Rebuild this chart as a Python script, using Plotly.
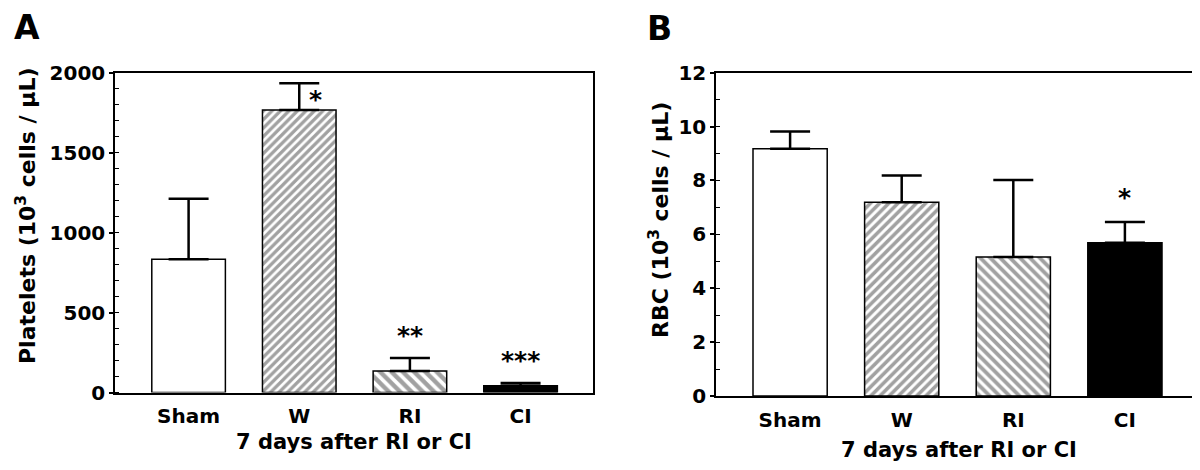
import plotly.graph_objects as go

categories = ["Sham", "W", "RI", "CI"]
platelets = [834, 1767, 134, 42]
platelets_err = [378, 167, 81, 17]
platelets_sig = ["", "*", "**", "***"]
rbc = [9.18, 7.19, 5.16, 5.69]
rbc_err = [0.64, 0.99, 2.86, 0.77]
rbc_sig = ["", "", "", "*"]

patterns_A = ["", "/", "\\", ""]
patterns_B = ["", "/", "\\", ""]
pat_size_A = [6, 6, 8, 6]
pat_size_B = [6, 6.5, 7, 6]
fills = ["white", "white", "white", "black"]

FONT = "DejaVu Sans, sans-serif"

# page offset (browser body margin) and figure size
OFF = 8
W, H = 1192, 462

def px(x):
    return (x - OFF) / W

def py(y):
    return 1 - (y - OFF) / H

fig = go.Figure()

def add_panel(vals, errs, shapes, sizes, xa, ya):
    fig.add_trace(go.Bar(
        x=categories, y=vals, xaxis=xa, yaxis=ya, width=0.665,
        marker=dict(color=fills, line=dict(color="black", width=1.5),
                    pattern=dict(shape=shapes, fgcolor="black", bgcolor="white",
                                 size=sizes, solidity=0.55, fillmode="overlay")),
        error_y=dict(type="data", array=errs, arrayminus=[0]*4, symmetric=False,
                     color="black", thickness=2.5, width=20),
        showlegend=False, hoverinfo="skip"))

add_panel(platelets, platelets_err, patterns_A, pat_size_A, "x", "y")
add_panel(rbc, rbc_err, patterns_B, pat_size_B, "x2", "y2")

axis_common = dict(showline=True, linecolor="black", linewidth=1.5, mirror=True,
                   showgrid=False, zeroline=False, color="black", automargin=False)
ytick_font = dict(family=FONT, size=20, color="black", weight="bold")
xtick_font = dict(family=FONT, size=20, color="black", weight="bold")

fig.update_layout(
    width=W, height=H, margin=dict(l=0, r=0, t=0, b=0),
    paper_bgcolor="white", plot_bgcolor="white",
    font=dict(family=FONT, color="black"),
    xaxis=dict(domain=[px(115), px(592.5)], range=[-0.665, 3.65], ticks="",
               ticklabelstandoff=5,
               anchor="y", tickfont=xtick_font, **axis_common),
    yaxis=dict(domain=[py(392.5), py(72.7)], range=[0, 2000], dtick=500, ticks="outside",
               ticklen=4, tickwidth=1.5, anchor="x", tickfont=ytick_font,
               minor=dict(dtick=100, ticks="inside", ticklen=4, tickwidth=1, tickcolor="black"),
               **axis_common),
    xaxis2=dict(domain=[px(716), px(1198)], range=[-0.664, 3.655], ticks="",
                ticklabelstandoff=5,
                anchor="y2", tickfont=xtick_font, **axis_common),
    yaxis2=dict(domain=[py(396), py(72.7)], range=[0, 12], dtick=2, ticks="outside",
                ticklen=4, tickwidth=1.5, anchor="x2", tickfont=ytick_font,
                minor=dict(dtick=1, ticks="inside", ticklen=4, tickwidth=1, tickcolor="black"),
                **axis_common),
)

ann = []
for i, s in enumerate(platelets_sig):
    if not s:
        continue
    top = platelets[i] + platelets_err[i]
    if s == "*":
        ann.append(dict(x=i, y=top, xref="x", yref="y", text="<b>*</b>", showarrow=False,
                        xanchor="center", yanchor="middle",
                        xshift=16, yshift=-16, font=dict(size=25, family=FONT)))
    else:
        ann.append(dict(x=i, y=top, xref="x", yref="y", text="<b>" + s + "</b>", showarrow=False,
                        xanchor="center", yanchor="bottom", yshift=6, font=dict(size=25, family=FONT)))
for i, s in enumerate(rbc_sig):
    if not s:
        continue
    top = rbc[i] + rbc_err[i]
    ann.append(dict(x=i, y=top, xref="x2", yref="y2", text="<b>" + s + "</b>", showarrow=False,
                    xanchor="center", yanchor="bottom", yshift=8, font=dict(size=25, family=FONT)))

def pann(x, y, text, size, angle=0):
    return dict(x=px(x), y=py(y), xref="paper", yref="paper", text=text,
                textangle=angle, showarrow=False, xanchor="center", yanchor="middle",
                font=dict(size=size, family=FONT))

ann += [
    pann(353.5, 442, "<b>7 days after RI or CI</b>", 21),
    pann(959, 450, "<b>7 days after RI or CI</b>", 21),
    pann(26, 216, "<b>Platelets (10<sup>3</sup> cells / µL)</b>", 22, -90),
    pann(659, 220, "<b>RBC (10<sup>3</sup> cells / µL)</b>", 22, -90),
    pann(27, 28, "<b>A</b>", 33),
    pann(659.5, 29, "<b>B</b>", 33),
]
fig.update_layout(annotations=ann)

fig.write_html("out.html")
